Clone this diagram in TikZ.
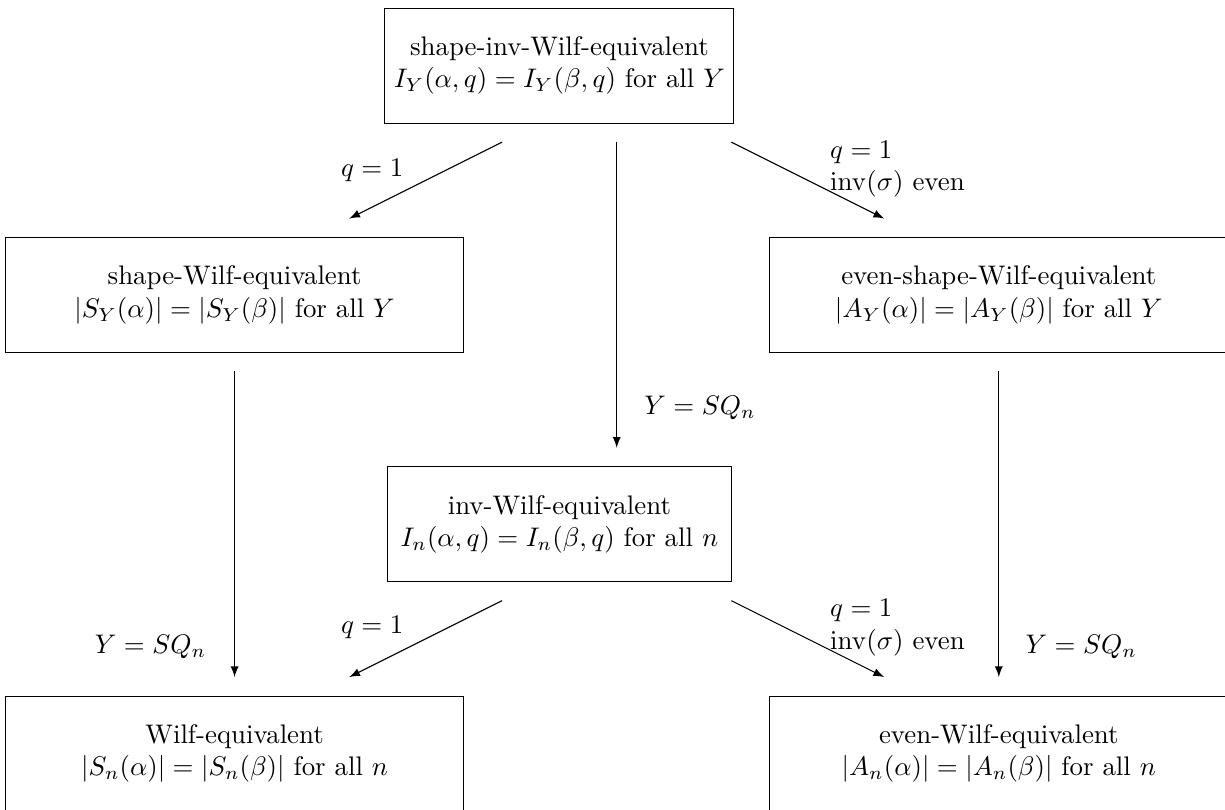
\documentclass[tikz,border=0pt]{standalone}
\usepackage{amsmath}
\usetikzlibrary{positioning}
\usetikzlibrary{arrows}
\tikzset {
  % boxes for the equivalences
  eqbox/.style = {draw, rectangle, align=center, minimum height=1.5cm},
  narrow/.style = {eqbox, minimum width=4.5cm},
  wide/.style = {eqbox, minimum width=6cm},
  % labels beside the arrows
  lab/.style = {align=left},
}

\begin{document}
\begin{tikzpicture}[>=latex]
      \useasboundingbox (-7.32,0.86) rectangle (8.71,-9.73);

      \node[narrow] (sinv) at (0, 0) {shape-inv-Wilf-equivalent\\ $I_Y(\alpha,q) = I_Y(\beta,q)$ for all $Y$};
      \node[wide] (swilf) at (-4.25, -3) {shape-Wilf-equivalent\\ $|S_Y(\alpha)| = |S_Y(\beta)|$ for all $Y$};
      \node[wide] (eswilf) at (5.75, -3) {even-shape-Wilf-equivalent\\ $|A_Y(\alpha)| = |A_Y(\beta)|$ for all $Y$};
      \node[narrow] (inv) at (0, -6) {inv-Wilf-equivalent\\ $I_n(\alpha,q) = I_n(\beta,q)$ for all $n$};
      \node[wide] (wilf) at (-4.25, -9) {Wilf-equivalent\\ $|S_n(\alpha)| = |S_n(\beta)|$ for all $n$};
      \node[wide] (ewilf) at (5.75, -9) {even-Wilf-equivalent\\ $|A_n(\alpha)| = |A_n(\beta)|$ for all $n$};

      % arrow ends
      \coordinate (a1) at (-0.75, -1);
      \coordinate (b1) at (-2.75, -2);
      \coordinate (a2) at (0.75, -1);
      \coordinate (b2) at (0.75, -5);
      \coordinate (a3) at (2.25, -1);
      \coordinate (b3) at (4.25, -2);
      \coordinate (a4) at (-4.25, -4);
      \coordinate (b4) at (-4.25, -8);
      \coordinate (a5) at (5.75, -4);
      \coordinate (b5) at (5.75, -8);
      \coordinate (a6) at (-0.75, -7);
      \coordinate (b6) at (-2.75, -8);
      \coordinate (a7) at (2.25, -7);
      \coordinate (b7) at (4.25, -8);

      \draw [->] (a1) -- (b1);
      \draw [->] (a2) -- (b2);
      \draw [->] (a3) -- (b3);
      \draw [->] (a4) -- (b4);
      \draw [->] (a5) -- (b5);
      \draw [->] (a6) -- (b6);
      \draw [->] (a7) -- (b7);

      \node[lab] (l1) at (-2.45, -1.37) {$q = 1$};
      \node[lab, anchor=west] (l3) at (3.42, -1.355) {$q = 1$\\ $\operatorname{inv}(\sigma)$ even};
      \node[lab] (l2) at (1.84, -4.48) {$Y = SQ_n$};
      \node[lab] (l4) at (-5.35, -7.6) {$Y = SQ_n$};
      \node[lab] (l5) at (6.83, -7.6) {$Y = SQ_n$};
      \node[lab] (l6) at (-2.45, -7.35) {$q = 1$};
      \node[lab, anchor=west] (l7) at (3.42, -7.355) {$q = 1$\\ $\operatorname{inv}(\sigma)$ even};
\end{tikzpicture}
\end{document}
